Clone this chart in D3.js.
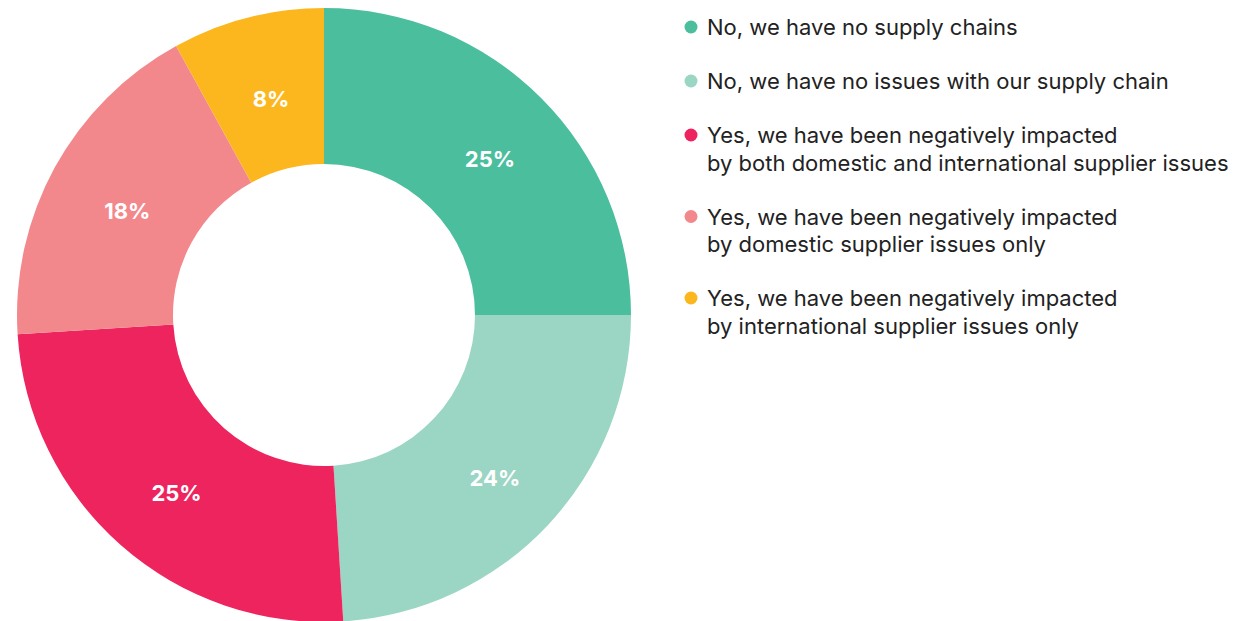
<!DOCTYPE html>
<html>
<head>
<meta charset="utf-8">
<script src="https://cdn.jsdelivr.net/npm/d3@7"></script>
<style>
  html, body { margin: 0; padding: 0; background: #fff; }
  svg { display: block; }
</style>
</head>
<body>
<svg id="chart" width="1250" height="621"></svg>
<script>
// Survey answers, in drawing order (clockwise from 12 o'clock)
const categories = [
  ["No, we have no supply chains"],
  ["No, we have no issues with our supply chain"],
  ["Yes, we have been negatively impacted", "by both domestic and international supplier issues"],
  ["Yes, we have been negatively impacted", "by domestic supplier issues only"],
  ["Yes, we have been negatively impacted", "by international supplier issues only"]
];
const shares = [25, 24, 25, 18, 8];
const palette = ["#4bbe9e", "#9bd5c3", "#ee245e", "#f2888c", "#fdb71e"];

const svg = d3.select("#chart");
const font = "Inter, 'Liberation Sans', sans-serif";

const cx = 324, cy = 315;
const outerR = 307, innerR = 151;

const color = d3.scaleOrdinal().domain(d3.range(shares.length)).range(palette);

const pie = d3.pie().sort(null).value(d => d);
const arc = d3.arc().innerRadius(innerR).outerRadius(outerR);

const arcs = pie(shares);

const g = svg.append("g").attr("transform", `translate(${cx},${cy})`);

g.selectAll("path.slice")
  .data(arcs)
  .join("path")
  .attr("class", "slice")
  .attr("d", arc)
  .attr("fill", (d, i) => color(i));

// Percentage labels sit a little below/right of each ring centroid
g.selectAll("text.pct")
  .data(arcs)
  .join("text")
  .attr("class", "pct")
  .attr("transform", d => {
    const [x, y] = arc.centroid(d);
    return `translate(${x + 4},${y + 6})`;
  })
  .attr("text-anchor", "middle")
  .attr("dy", "0.36em")
  .attr("font-family", font)
  .attr("font-weight", 700)
  .attr("font-size", 22)
  .attr("fill", "#fff")
  .text(d => d.data + "%");

// Legend
const lineH = 27.5, itemGap = 26.5;
const legend = svg.append("g").attr("transform", "translate(691,0)");
let y = 35;
categories.forEach((lines, i) => {
  const item = legend.append("g").attr("transform", `translate(0,${y})`);
  item.append("circle")
    .attr("cx", 0)
    .attr("cy", -8)
    .attr("r", 6.5)
    .attr("fill", color(i));
  const t = item.append("text")
    .attr("x", 16)
    .attr("font-family", font)
    .attr("font-size", 22)
    .attr("fill", "#222");
  lines.forEach((ln, j) => {
    t.append("tspan").attr("x", 16).attr("dy", j === 0 ? 0 : lineH).text(ln);
  });
  y += lines.length * lineH + itemGap;
});
</script>
</body>
</html>
